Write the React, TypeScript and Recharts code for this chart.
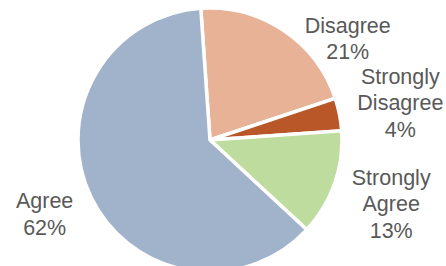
import React from "react";
import { PieChart, Pie, Cell } from "recharts";

const categories = ["Disagree", "Strongly Disagree", "Strongly Agree", "Agree"];
const values = [21, 4, 13, 62];
const labelLines = [["Disagree"], ["Strongly", "Disagree"], ["Strongly", "Agree"], ["Agree"]];
const percentLabels = ["21%", "4%", "13%", "62%"];

const colors = ["#E8B296", "#B95729", "#BEDC9D", "#A0B3CB"];
const labelShift: Record<string, [number, number]> = {
  Disagree: [32, 56],
  "Strongly Disagree": [4, -1],
  "Strongly Agree": [2, 0],
  Agree: [6, -8.5],
};

const data = categories.map((name, i) => ({
  name,
  value: values[i],
  lines: [...labelLines[i], percentLabels[i]],
}));

const RAD = Math.PI / 180;
const LINE_H = 26.5;

const renderLabel = (props: any) => {
  const { cx, cy, midAngle, payload, index } = props;
  const name = categories[index];
  const lines: string[] = payload?.lines ?? data[index].lines;
  const r = 190;
  const [dx, dy] = labelShift[name] || [0, 0];
  const x = cx + r * Math.cos(-midAngle * RAD) + dx;
  const y = cy + r * Math.sin(-midAngle * RAD) + dy;
  const n = lines.length;
  const firstBaseline = y - ((n - 1) / 2) * LINE_H + 8;
  return (
    <text
      x={x}
      y={firstBaseline}
      textAnchor="middle"
      fill="#595959"
      fontSize={21.5}
      fontFamily="'Liberation Sans', Arial, sans-serif"
    >
      {lines.map((l, i) => (
        <tspan key={i} x={x} y={firstBaseline + i * LINE_H}>
          {l}
        </tspan>
      ))}
    </text>
  );
};

export default function App() {
  return (
    <div style={{ position: "absolute", left: 0, top: 0, background: "#fff" }}>
      <PieChart width={446} height={266} margin={{ top: 0, right: 0, bottom: 0, left: 0 }}>
        <Pie
          data={data}
          dataKey="value"
          nameKey="name"
          cx={210}
          cy={140}
          outerRadius={132}
          startAngle={94}
          endAngle={-266}
          stroke="#ffffff"
          strokeWidth={3.5}
          label={renderLabel}
          labelLine={false}
          isAnimationActive={false}
        >
          {data.map((d, i) => (
            <Cell key={d.name} fill={colors[i]} />
          ))}
        </Pie>
      </PieChart>
    </div>
  );
}
